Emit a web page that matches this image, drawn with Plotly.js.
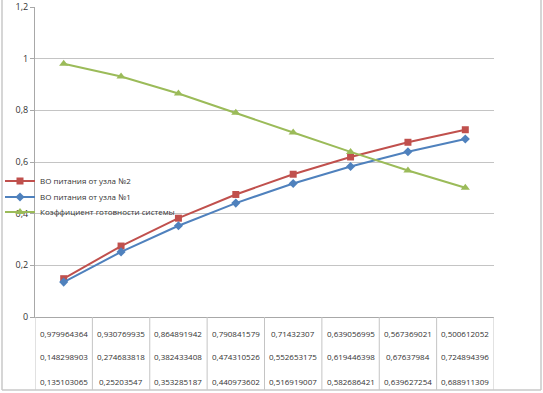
<!DOCTYPE html>
<html><head><meta charset="utf-8">
<script src="https://cdn.plot.ly/plotly-3.0.1.min.js"></script>
<style>html,body{margin:0;padding:0;background:#fff}#c{width:543px;height:393px}</style>
</head><body><div id="c"></div>
<script>
const categories = [1, 2, 3, 4, 5, 6, 7, 8];
const seriesNames = ["ВО питания от узла №2", "ВО питания от узла №1", "Коэффициент готовности системы"];
const node2 = [0.148298903, 0.274683818, 0.382433408, 0.474310526, 0.552653175, 0.619446398, 0.67637984, 0.724894396];
const node1 = [0.135103065, 0.25203547, 0.353285187, 0.440973602, 0.516919007, 0.582686421, 0.639627254, 0.688911309];
const readiness = [0.979964364, 0.930769935, 0.864891942, 0.790841579, 0.71432307, 0.639056995, 0.567369021, 0.500612052];
const yTicks = [0, 0.2, 0.4, 0.6, 0.8, 1, 1.2];

const W = 543, H = 393, mr = 49, mt = 7, mb = 76, plotLeft = 35;
const paperW = W - mr, ph = H - mt - mb;
const py = p => (H - mb - p) / ph;   // pixel y -> paper y
const px = p => p / paperW;          // pixel x -> paper x

const RED = '#C0504D', BLUE = '#4F81BD', GREEN = '#9BBB59';
const xIdx = categories.map((c, i) => i);

const traces = [
  {x: xIdx, y: node2, name: seriesNames[0], legend: 'legend', mode: 'lines+markers', line: {color: RED, width: 2}, marker: {symbol: 'square', size: 7, color: RED}},
  {x: xIdx, y: node1, name: seriesNames[1], legend: 'legend2', mode: 'lines+markers', line: {color: BLUE, width: 2}, marker: {symbol: 'diamond', size: 7, color: BLUE}},
  {x: xIdx, y: readiness, name: seriesNames[2], legend: 'legend3', mode: 'lines+markers', line: {color: GREEN, width: 2}, marker: {symbol: 'triangle-up', size: 8, color: GREEN}}
];

const fmt = v => String(v).replace('.', ',');
const rows = [readiness, node2, node1];
const rowY = [333, 357, 381];
const annotations = [];
rows.forEach((r, ri) => r.forEach((v, i) => annotations.push({
  x: i, xref: 'x', y: py(rowY[ri]), yref: 'paper', text: fmt(v), showarrow: false,
  font: {size: 8, color: '#333', family: 'Open Sans, sans-serif'}, xanchor: 'center', yanchor: 'middle'
})));

const shapes = [];
for (let i = 0; i <= categories.length; i++) {
  shapes.push({type: 'line', xref: 'x', yref: 'paper', x0: i - 0.5, x1: i - 0.5, y0: 0, y1: py(390), line: {color: '#c4c4c4', width: 1}});
}
const bc = {color: '#c8c8c8', width: 1.5};
shapes.push({type: 'line', xref: 'paper', yref: 'paper', x0: px(2), x1: px(2), y0: py(390), y1: py(-2), line: bc});
shapes.push({type: 'line', xref: 'paper', yref: 'paper', x0: px(541), x1: px(541), y0: py(390), y1: py(-2), line: bc});
shapes.push({type: 'line', xref: 'paper', yref: 'paper', x0: px(2), x1: px(541), y0: py(390), y1: py(390), line: bc});

const legendBase = {x: 0, xanchor: 'left', yanchor: 'middle', bgcolor: 'rgba(0,0,0,0)',
  font: {size: 8, color: '#333'}, borderwidth: 0};
const legendY = [181, 197, 212];

const layout = {
  width: W, height: H, margin: {l: 0, r: mr, t: mt, b: mb, pad: 0},
  paper_bgcolor: '#fff', plot_bgcolor: '#fff', separators: ', ',
  font: {family: 'Open Sans, sans-serif', size: 8, color: '#333'},
  xaxis: {domain: [plotLeft / paperW, 1], range: [-0.5, categories.length - 0.5], showticklabels: false, showgrid: false, zeroline: false,
          showline: true, linecolor: '#a8a8a8', linewidth: 1, ticks: '', fixedrange: true},
  yaxis: {range: [0, 1.2], tickvals: yTicks, ticks: 'outside', ticklen: 4, tickcolor: '#a8a8a8',
          showgrid: true, gridcolor: '#c4c4c4', gridwidth: 1, zeroline: false, showline: true, linecolor: '#a8a8a8',
          tickfont: {size: 9, color: '#333'}},
  showlegend: true,
  legend: Object.assign({}, legendBase, {y: py(legendY[0])}),
  legend2: Object.assign({}, legendBase, {y: py(legendY[1])}),
  legend3: Object.assign({}, legendBase, {y: py(legendY[2])}),
  annotations: annotations, shapes: shapes
};
Plotly.newPlot('c', traces, layout, {staticPlot: true, displayModeBar: false});
</script></body></html>
